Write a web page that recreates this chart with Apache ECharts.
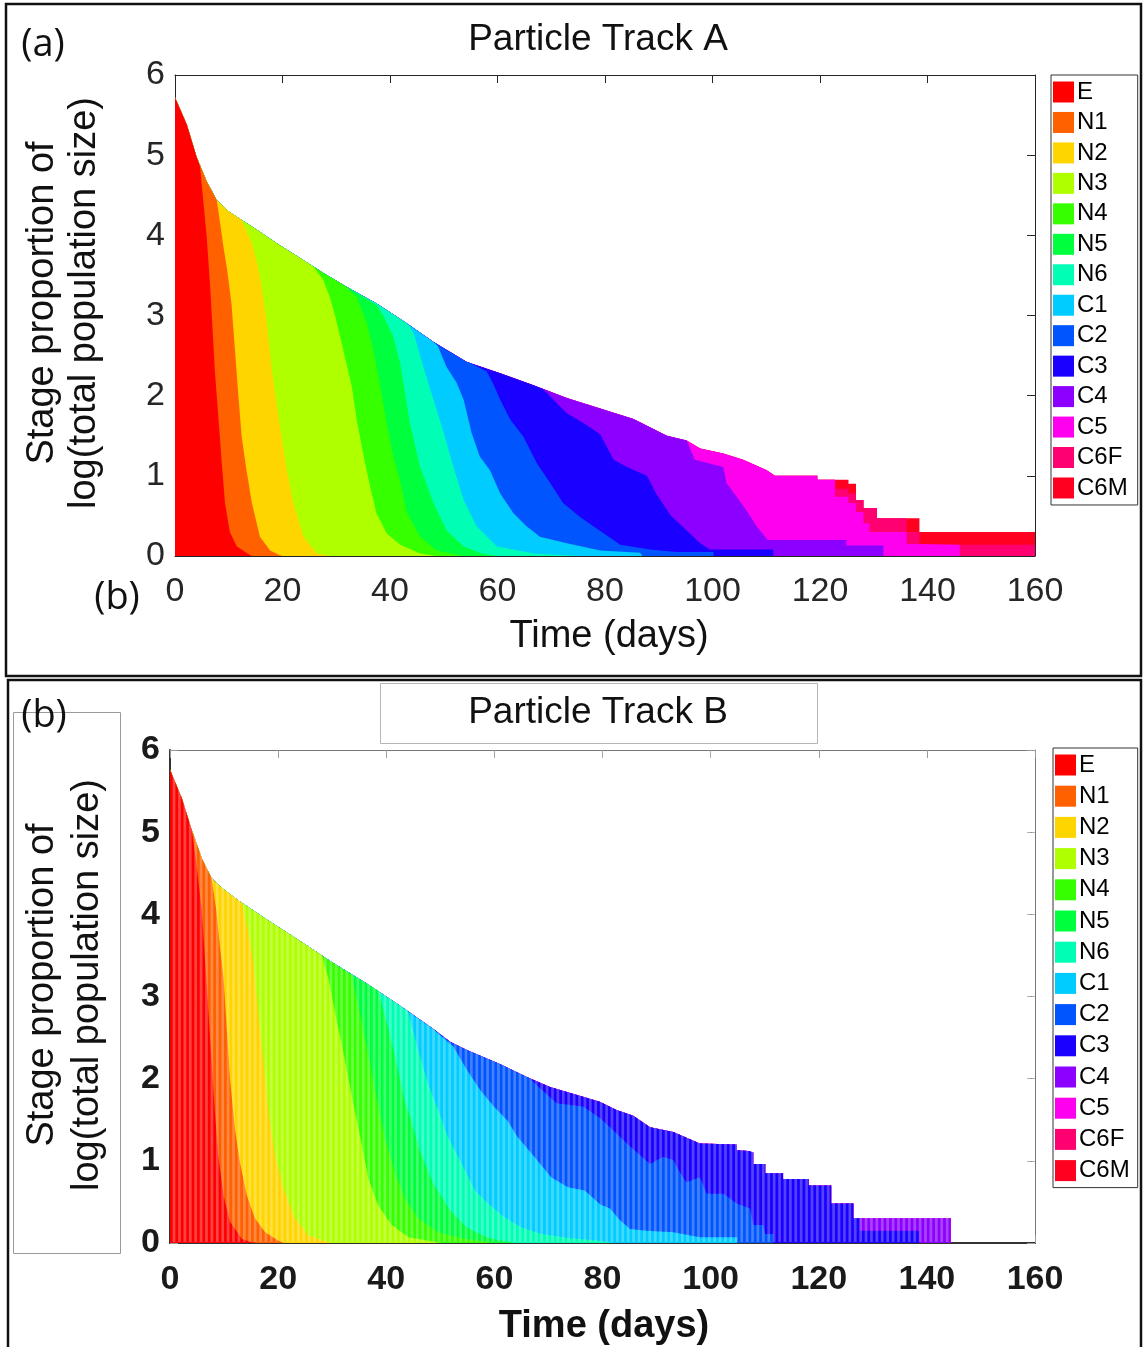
<!DOCTYPE html>
<html>
<head>
<meta charset="utf-8">
<script src="https://cdn.jsdelivr.net/npm/echarts@6/dist/echarts.min.js"></script>
<style>
  html, body { margin: 0; padding: 0; background: #ffffff; }
  #chart { width: 1144px; height: 1347px; }
</style>
</head>
<body>
<div id="chart"></div>
<script>
// Copepod stage structure along two particle tracks.
// Each day's column has height log(total population size) and is split
// between the life stages (E at the bottom, C6M on top).

const stages = ['E', 'N1', 'N2', 'N3', 'N4', 'N5', 'N6', 'C1', 'C2', 'C3', 'C4', 'C5', 'C6F', 'C6M'];
const stageColors = ['#FF0000', '#FF6000', '#FFD500', '#B0FF00', '#36FF00', '#00FF3C', '#00FFB4',
                     '#00CCFF', '#0055FF', '#1A00FF', '#8C00FF', '#FF00EE', '#FF0070', '#FF0020'];
const dayTicks = { min: 0, max: 160, step: 20 };
const logTicks = { min: 0, max: 6, step: 1 };

// ---- Track A ------------------------------------------------------------
// total log(population) over time [day, value]
const A_total = [[0,5.72],[2.2,5.38],[4,4.98],[5.9,4.67],[7.75,4.44],[9.9,4.30],[12.4,4.19],[15.2,4.07],
  [18.9,3.90],[23.9,3.69],[27.6,3.53],[31.9,3.36],[37.5,3.15],[42.5,2.93],[48.1,2.67],[54.3,2.42],
  [60.5,2.28],[66.7,2.13],[72.9,1.97],[79.1,1.84],[85.3,1.71],[91.5,1.50],[95.2,1.44],[97.7,1.34],
  [102,1.28],[105.7,1.20],[110.1,1.07],[111.6,1.00],[119.5,1.00],[119.5,0.95],[125.3,0.95],[125.3,0.90],
  [126.7,0.90],[126.7,0.70],[128.1,0.70],[128.1,0.60],[130.6,0.60],[130.6,0.47],[138.5,0.47],
  [138.5,0.30],[160,0.30]];
// upper edge of each stage band once it drops below the total [day, value]
const A_E  = [[4.65,4.86],[5.3,4.40],[5.9,3.98],[6.5,3.40],[7.0,2.82],[7.4,2.32],[8.1,1.70],[8.7,1.16],
  [9.3,0.66],[10.2,0.30],[11.5,0.12],[14,0.01],[14.5,0]];
const A_N1 = [[7.75,4.44],[8.4,4.15],[9.0,3.86],[9.7,3.57],[10.5,3.15],[11.2,2.53],[11.8,1.99],[12.4,1.49],
  [13.3,1.07],[14.3,0.66],[15.8,0.24],[17.7,0.07],[19.5,0.01],[20,0]];
const A_N2 = [[12.7,4.17],[14.3,3.90],[15.3,3.65],[16.1,3.36],[17.1,2.90],[18.0,2.32],[18.9,1.90],
  [19.8,1.49],[20.8,1.07],[22.0,0.66],[23.9,0.24],[26.4,0.03],[28.8,0]];
const A_N3 = [[25.7,3.61],[27.6,3.44],[28.8,3.23],[29.8,2.99],[30.7,2.74],[31.6,2.49],[32.9,2.11],
  [33.8,1.70],[35.0,1.28],[36.3,0.86],[37.5,0.53],[39.4,0.28],[41.9,0.14],[45.6,0.03],[48.7,0]];
const A_N4 = [[32.5,3.31],[33.8,3.23],[35.7,2.90],[36.9,2.57],[38.1,2.15],[39.4,1.65],[40.6,1.24],
  [41.9,0.93],[43.1,0.55],[45.6,0.24],[48.7,0.07],[53,0.01],[54,0]];
const A_N5 = [[37.5,3.13],[38.8,2.99],[40.6,2.74],[41.9,2.40],[43.7,1.66],[45.6,1.11],[48.1,0.66],
  [50.5,0.32],[53.7,0.12],[57,0.03],[60,0]];
const A_N6 = [[43.5,2.88],[44.5,2.76],[46.2,2.36],[48.1,1.95],[50.0,1.53],[51.8,1.11],[53.7,0.70],
  [56.1,0.37],[59.9,0.12],[66.7,0.03],[75,0]];
const A_C1 = [[48.9,2.62],[50.5,2.36],[52.4,2.16],[53.7,1.95],[55.2,1.53],[56.7,1.24],[58.6,1.07],
  [60.5,0.78],[63.0,0.53],[65.4,0.37],[67.9,0.24],[72.9,0.16],[79.1,0.07],[86.5,0.04],[87,0]];
const A_C2 = [[54.9,2.41],[58.0,2.30],[59.2,2.15],[60.5,1.95],[62.4,1.70],[64.8,1.49],[67.3,1.16],
  [69.8,0.91],[72.2,0.66],[75.3,0.49],[78.5,0.34],[81.6,0.20],[82.8,0.14],[88.4,0.08],[93.3,0.05],
  [100.2,0.05],[100.2,0]];
const A_C3 = [[68.5,2.08],[72.9,1.78],[76.0,1.66],[79.1,1.52],[81.6,1.20],[84.1,1.11],[87.8,1.00],
  [89.5,0.78],[92.3,0.50],[95.5,0.30],[97.7,0.16],[99.5,0.08],[111.3,0.08],[111.3,0]];
const A_C4 = [[95.2,1.44],[96.7,1.20],[102,1.11],[102.6,0.91],[104.5,0.74],[106.3,0.57],[108.2,0.37],
  [110.3,0.20],[124.9,0.20],[124.9,0.13],[131.8,0.13],[131.8,0]];
const A_C5 = [[122.8,0.95],[122.8,0.74],[125.3,0.74],[125.3,0.66],[126.7,0.66],[126.7,0.55],[128.1,0.55],
  [128.1,0.41],[129.2,0.41],[129.2,0.30],[136.1,0.30],[136.1,0.15],[138.5,0.15],[138.5,0.14],
  [146,0.14],[146,0]];
const A_C6F = [[122.8,0.95],[122.8,0.84],[125.3,0.84],[125.3,0.78],[126.7,0.78],[126.7,0.70],[128.1,0.70],
  [128.1,0.60],[130.6,0.60],[130.6,0.47],[136.1,0.47],[136.1,0.30],[138.5,0.30],[138.5,0.14],[160,0.14]];

// ---- Track B ------------------------------------------------------------
const B_total = [[0,5.76],[2.2,5.41],[4.0,5.03],[5.9,4.68],[7.7,4.44],[9.6,4.32],[12.6,4.17],[17.6,3.95],
  [23.7,3.69],[29.9,3.42],[36.1,3.17],[42.3,2.90],[48.6,2.61],[51.8,2.45],[54.9,2.35],[61.0,2.18],
  [66.0,2.02],[70.3,1.90],[76.4,1.78],[79.5,1.72],[82.6,1.62],[85.7,1.55],[88.8,1.41],[93.1,1.35],
  [98.0,1.21],[104.8,1.20],[104.8,1.13],[107.0,1.12],[107.9,1.10],[107.9,0.96],[110.1,0.96],
  [110.1,0.85],[113.4,0.85],[113.4,0.78],[118.1,0.78],[118.1,0.70],[122.3,0.70],[122.3,0.48],
  [126.4,0.48],[126.4,0.30],[144.4,0.30]];
const B_E  = [[4.3,4.90],[5.2,4.44],[5.9,4.03],[6.5,3.42],[7.1,2.81],[7.7,2.20],[8.3,1.60],[8.9,1.07],
  [9.9,0.58],[11.1,0.26],[13.3,0.05],[15.1,0.01],[16,0]];
const B_N1 = [[7.7,4.44],[8.6,4.03],[9.2,3.63],[9.9,3.22],[10.5,2.61],[11.1,2.00],[12.0,1.39],[12.9,0.99],
  [14.2,0.58],[15.7,0.30],[17.6,0.13],[20.0,0.03],[21,0]];
const B_N2 = [[13.3,4.14],[14.5,3.79],[15.4,3.42],[16.3,2.81],[17.3,2.20],[18.2,1.60],[19.4,1.07],
  [21.0,0.66],[23.1,0.30],[25.6,0.09],[28.7,0.02],[30,0]];
const B_N3 = [[28.1,3.50],[29.3,3.22],[30.5,2.81],[31.8,2.41],[33.0,2.00],[34.2,1.60],[35.5,1.19],
  [36.7,0.78],[38.5,0.46],[41.0,0.22],[44.1,0.07],[48.4,0.02],[50,0]];
const B_N4 = [[33.6,3.26],[34.8,2.89],[36.1,2.49],[37.3,2.08],[38.5,1.68],[39.8,1.27],[41.6,0.86],
  [43.5,0.54],[45.9,0.30],[49.6,0.13],[54.6,0.05],[58,0.02],[60,0]];
const B_N5 = [[38.5,3.07],[40.4,2.61],[42.2,2.10],[43.5,1.70],[44.4,1.54],[46.2,1.13],[48.7,0.72],
  [51.8,0.40],[54.9,0.19],[58.6,0.07],[61,0.03],[64,0]];
const B_N6 = [[44.0,2.82],[45.9,2.35],[47.7,1.94],[49.6,1.62],[51.4,1.29],[53.9,0.97],[56.4,0.64],
  [58.8,0.48],[61.9,0.31],[65.0,0.19],[68.7,0.11],[73.6,0.06],[79,0.03],[82,0]];
const B_C1 = [[49.9,2.53],[52.4,2.39],[54.9,2.11],[57.4,1.86],[59.9,1.66],[62.4,1.49],[64.3,1.29],
  [67.4,1.05],[70.5,0.80],[73.6,0.68],[76.7,0.64],[79.6,0.47],[81.4,0.42],[83.2,0.28],[85.1,0.17],
  [88.2,0.15],[93.1,0.13],[98.0,0.07],[104.9,0.07],[104.9,0]];
const B_C2 = [[66.6,2.00],[68.5,1.88],[71.5,1.70],[76.4,1.66],[79.5,1.52],[81.4,1.41],[84.5,1.21],
  [88.8,0.96],[91.2,1.05],[93.1,1.01],[94.3,0.86],[95.5,0.74],[98.0,0.80],[99.3,0.60],[102.4,0.60],
  [104.8,0.48],[107.3,0.42],[107.9,0.22],[109.7,0.22],[110.1,0.11],[111.6,0.11],[111.6,0]];
const B_C3 = [[127.6,0.30],[127.6,0.15],[138.6,0.15],[138.6,0]];

const edgesA = [A_E, A_N1, A_N2, A_N3, A_N4, A_N5, A_N6, A_C1, A_C2, A_C3, A_C4, A_C5, A_C6F, null];
const edgesB = [B_E, B_N1, B_N2, B_N3, B_N4, B_N5, B_N6, B_C1, B_C2, B_C3, null, null, null, null];

const SANS = '"Liberation Sans", Arial, Helvetica, sans-serif';
const LIGHT = '"Open Sans", "Liberation Sans", sans-serif';

// Cumulative upper edge of a stage: follows the total until the stage's own edge takes over.
function bandTop(total, edge) {
  if (!edge) return total.slice();
  const x0 = edge[0][0];
  return total.filter(p => p[0] < x0).concat(edge);
}

// Stages are drawn from the top one down, each filled to zero, so lower stages sit in front.
function stageSeries(total, edges, axisIndex) {
  const out = [];
  for (let i = stages.length - 1; i >= 0; i--) {
    out.push({
      type: 'line',
      name: stages[i],
      xAxisIndex: axisIndex,
      yAxisIndex: axisIndex,
      data: bandTop(total, edges[i]),
      showSymbol: false,
      symbol: 'none',
      smooth: false,
      silent: true,
      lineStyle: { width: 0, color: stageColors[i] },
      itemStyle: { color: stageColors[i] },
      areaStyle: { color: stageColors[i], opacity: 1 }
    });
  }
  return out;
}

function axisPair(kind, gridIndex, opts) {
  const range = kind === 'x' ? dayTicks : logTicks;
  const base = {
    type: 'value', gridIndex: gridIndex,
    min: range.min, max: range.max, interval: range.step,
    splitLine: { show: false }
  };
  const main = Object.assign({}, base, {
    position: kind === 'x' ? 'bottom' : 'left',
    axisLine: { show: true, onZero: false, lineStyle: { color: opts.mainLine, width: opts.mainWidth } },
    axisTick: { show: true, inside: true, length: 8, lineStyle: { color: opts.tick } },
    axisLabel: {
      show: true, fontSize: 34, fontFamily: SANS, color: opts.label, fontWeight: opts.weight,
      margin: kind === 'x' ? opts.xMargin : 10
    }
  });
  const mirror = Object.assign({}, base, {
    position: kind === 'x' ? 'top' : 'right',
    axisLine: { show: true, onZero: false, lineStyle: { color: opts.boxLine, width: 1 } },
    axisTick: { show: true, inside: true, length: 8, lineStyle: { color: opts.tick } },
    axisLabel: { show: false }
  });
  return [main, mirror];
}

const styleA = { mainLine: '#262626', mainWidth: 1, boxLine: '#262626', tick: '#262626', label: '#262626', weight: 'normal', xMargin: 19 };
const styleB = { mainLine: '#333333', mainWidth: 2, boxLine: '#777777', tick: '#9a9a9a', label: '#1a1a1a', weight: 'bold', xMargin: 20 };

function legendFor(top, gap, left, padRight) {
  return {
    orient: 'vertical', left: left, top: top,
    data: stages.slice(),
    icon: 'rect', itemWidth: 21, itemHeight: 21, itemGap: gap,
    selectedMode: false,
    padding: [5, padRight, 5, 2],
    borderColor: '#333333', borderWidth: 1,
    textStyle: { fontSize: 24, fontFamily: SANS, color: '#000000', padding: [0, 0, 0, -2] }
  };
}

function text(x, y, str, font) {
  return {
    type: 'text', x: x, y: y, silent: true, z: 20,
    style: { text: str, font: font, fill: '#111111', textAlign: 'center', textVerticalAlign: 'middle' }
  };
}

function rotatedLabel(x, y, lineHeight) {
  const str = 'Stage proportion of\nlog(total population size)';
  return {
    type: 'text', x: x, y: y, rotation: Math.PI / 2, silent: true, z: 20,
    style: { text: str, font: '38px ' + SANS, fill: '#111', textAlign: 'center', textVerticalAlign: 'middle', lineHeight: lineHeight }
  };
}

const xA = axisPair('x', 0, styleA), yA = axisPair('y', 0, styleA);
const xB = axisPair('x', 1, styleB), yB = axisPair('y', 1, styleB);

const frames = [
  { type: 'rect', shape: { x: 6, y: 4, width: 1135, height: 672 }, style: { fill: 'none', stroke: '#111', lineWidth: 2.5 }, silent: true },
  { type: 'rect', shape: { x: 8, y: 680, width: 1133, height: 700 }, style: { fill: 'none', stroke: '#111', lineWidth: 2.5 }, silent: true },
  { type: 'rect', shape: { x: 380.5, y: 683.5, width: 437, height: 60 }, style: { fill: 'none', stroke: '#b5b5b5', lineWidth: 1 }, silent: true },
  { type: 'rect', shape: { x: 13.5, y: 712.5, width: 107, height: 541 }, style: { fill: 'none', stroke: '#9a9a9a', lineWidth: 1 }, silent: true }
];

const labels = [
  text(43, 45, '(a)', '38px ' + LIGHT),
  text(598, 40, 'Particle Track A', '37px ' + SANS),
  text(117, 598, '(b)', '38px ' + LIGHT),
  text(609, 637, 'Time (days)', '38px ' + SANS),
  rotatedLabel(64, 303, 42),
  text(44, 716, '(b)', '38px ' + LIGHT),
  text(598, 713, 'Particle Track B', '37px ' + SANS),
  text(604, 1327, 'Time (days)', 'bold 38px ' + SANS),
  rotatedLabel(65, 985, 45)
];

const chart = echarts.init(document.getElementById('chart'), null, { renderer: 'canvas' });
chart.setOption({
  animation: false,
  backgroundColor: '#ffffff',
  grid: [
    { left: 175, top: 75, width: 860, height: 481, containLabel: false },
    { left: 170, top: 750, width: 865, height: 493, containLabel: false }
  ],
  xAxis: [xA[0], xA[1], xB[0], xB[1]],
  yAxis: [yA[0], yA[1], yB[0], yB[1]],
  legend: [legendFor(75, 6.46, 1051, 10), legendFor(748, 7.2, 1053, 8)],
  series: stageSeries(A_total, edgesA, 0).concat(stageSeries(B_total, edgesB, 2))
});

// Track B columns are drawn as separate daily bars: light seams between days.
const seams = [];
const yTopB = chart.convertToPixel({ yAxisIndex: 2 }, logTicks.max);
const yBotB = chart.convertToPixel({ yAxisIndex: 2 }, logTicks.min);
const dayPx = chart.convertToPixel({ xAxisIndex: 2 }, 1) - chart.convertToPixel({ xAxisIndex: 2 }, 0);
for (let d = dayTicks.min; d < dayTicks.max; d++) {
  const x = chart.convertToPixel({ xAxisIndex: 2 }, d) + dayPx * 0.5;
  seams.push({
    type: 'rect', silent: true, z: 5,
    shape: { x: x, y: yTopB + 1, width: dayPx * 0.5, height: yBotB - yTopB - 2 },
    style: { fill: 'rgba(255,255,255,0.26)' }
  });
}

chart.setOption({ graphic: frames.concat(labels, seams) });
</script>
</body>
</html>
